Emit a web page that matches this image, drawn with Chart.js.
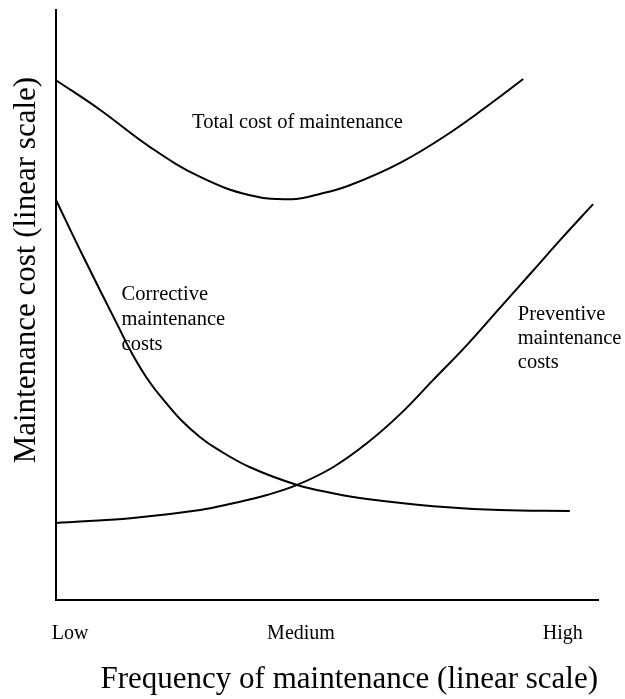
<!DOCTYPE html>
<html>
<head>
<meta charset="utf-8">
<script src="https://cdn.jsdelivr.net/npm/chart.js@4.4.1/dist/chart.umd.min.js"></script>
<style>
  html, body { margin: 0; padding: 0; background: #fff; }
  #wrap { width: 625px; height: 699px; }
</style>
</head>
<body>
<div id="wrap"><canvas id="c" width="625" height="699"></canvas></div>
<script>
// ---- Data (x: 0 = left end of axis, 100 = right end; y: relative cost 0..100) ----
const xTickValues = [2.6, 45.2, 93.5];
const xTickLabels = ['Low', 'Medium', 'High'];

const totalX = [0, 8.1, 17.3, 26.6, 35.8, 43.5, 48.7, 54.2, 63.5, 72.7, 81.9, 86.2];
const totalY = [88.1, 83.1, 76.8, 71.7, 68.6, 67.93, 68.83, 70.3, 74.1, 79.2, 85.3, 88.3];

const correctiveX = [0, 4.98, 11.25, 14.2, 17.3, 20.5, 23.4, 26.6, 29.7, 35.8, 44.5, 51.1, 57.4, 69.6, 81.9, 94.8];
const correctiveY = [67.8, 58.3, 46.8, 41.5, 36.9, 33.2, 30.2, 27.6, 25.6, 22.5, 19.5, 18.1, 17.1, 15.9, 15.25, 15.1];

const preventiveX = [0, 14.2, 26.6, 32.7, 38.9, 44.5, 51.1, 57.4, 63.5, 69.6, 75.8, 81.9, 88.0, 93.5, 99.1];
const preventiveY = [13.05, 13.9, 15.25, 16.4, 17.8, 19.5, 22.5, 26.6, 31.5, 37.3, 43.2, 49.5, 55.8, 61.5, 67.1];

const curveLabels = [
  { lines: ['Total cost of maintenance'], x: 25.1, y: 80.0, step: 25 },
  { lines: ['Corrective', 'maintenance', 'costs'], x: 12.1, y: 50.8, step: 25 },
  { lines: ['Preventive', 'maintenance', 'costs'], x: 85.2, y: 47.5, step: 24 }
];

const xTitle = 'Frequency of maintenance (linear scale)';
const yTitle = 'Maintenance cost (linear scale)';

// ---- build ----
const pts = (xs, ys) => xs.map((x, i) => ({ x: x, y: ys[i] }));
const FONT = "'Liberation Serif', 'Times New Roman', serif";

const lineStyle = {
  showLine: true,
  borderColor: '#000',
  borderWidth: 2,
  pointRadius: 0,
  pointHoverRadius: 0,
  fill: false,
  tension: 0.4,
  clip: false
};

const labelPlugin = {
  id: 'curveLabels',
  afterDatasetsDraw(chart) {
    const ctx = chart.ctx;
    const xs = chart.scales.x, ys = chart.scales.y;
    ctx.save();
    ctx.fillStyle = '#000';
    ctx.font = "20.5px " + FONT;
    ctx.textAlign = 'left';
    ctx.textBaseline = 'alphabetic';
    curveLabels.forEach(l => {
      const px = xs.getPixelForValue(l.x);
      const py = ys.getPixelForValue(l.y);
      l.lines.forEach((t, i) => ctx.fillText(t, px, py + i * l.step));
    });
    ctx.restore();
  }
};

new Chart(document.getElementById('c'), {
  type: 'scatter',
  data: {
    datasets: [
      Object.assign({ label: 'Total cost of maintenance', data: pts(totalX, totalY) }, lineStyle),
      Object.assign({ label: 'Corrective maintenance costs', data: pts(correctiveX, correctiveY) }, lineStyle),
      Object.assign({ label: 'Preventive maintenance costs', data: pts(preventiveX, preventiveY) }, lineStyle)
    ]
  },
  options: {
    responsive: false,
    animation: false,
    events: [],
    layout: { padding: { left: 0, right: 27, top: 10, bottom: 0 } },
    plugins: { legend: { display: false }, tooltip: { enabled: false } },
    scales: {
      x: {
        type: 'linear',
        min: 0, max: 100,
        grid: { display: false, drawTicks: false },
        border: { display: true, color: '#000', width: 2 },
        afterBuildTicks: s => { s.ticks = xTickValues.map(v => ({ value: v })); },
        ticks: {
          autoSkip: false, maxRotation: 0, padding: 22, color: '#000',
          font: { family: FONT, size: 20, lineHeight: 1.2 },
          callback: (v, i) => xTickLabels[i]
        },
        title: {
          display: true, text: xTitle, align: 'end', color: '#000',
          font: { family: FONT, size: 31, lineHeight: '24px' },
          padding: { top: 0, bottom: 7 }
        }
      },
      y: {
        type: 'linear',
        min: 0, max: 100,
        grid: { display: false, drawTicks: false },
        border: { display: true, color: '#000', width: 2 },
        ticks: { display: false },
        title: {
          display: true, text: '         ' + yTitle, color: '#000',
          font: { family: FONT, size: 31, lineHeight: 1.2 },
          padding: { top: 8.4, bottom: 10.4 }
        }
      }
    }
  },
  plugins: [labelPlugin]
});
</script>
</body>
</html>
